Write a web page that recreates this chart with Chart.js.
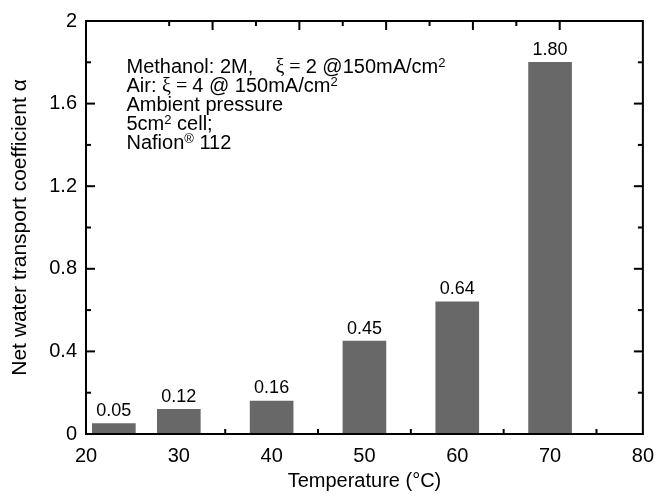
<!DOCTYPE html>
<html>
<head>
<meta charset="utf-8">
<script src="https://cdn.jsdelivr.net/npm/chart.js@4.4.1/dist/chart.umd.min.js"></script>
<style>
  html, body { margin: 0; padding: 0; background: #fff; }
  canvas { display: block; }
</style>
</head>
<body>
<canvas id="chart" width="664" height="497"></canvas>
<script>
// bar positions (°C) and net water transport coefficient
const temps = [23, 30, 40, 50, 60, 70];
const alpha = [0.05, 0.12, 0.16, 0.45, 0.64, 1.80];

// axis ranges / tick steps
const xRange = [20, 80], xStep = 10;
const yRange = [0, 2], yStep = 0.4;
const topRange = [0, 5.5], topStep = 1;

// operating conditions text, as runs: [text, kind] ('n' normal, 's' symbol, 'sup' superscript)
const notes = [
  [['Methanol: 2M,    ', 'n'], ['ξ = ', 's'], ['2 @150mA/cm', 'n'], ['2', 'sup']],
  [['Air: ', 'n'], ['ξ = ', 's'], ['4 @ 150mA/cm', 'n'], ['2', 'sup']],
  [['Ambient pressure', 'n']],
  [['5cm', 'n'], ['2', 'sup'], [' cell;', 'n']],
  [['Nafion', 'n'], ['®', 'sup'], [' 112', 'n']]
];

const SANS = '"Liberation Sans", Arial, sans-serif';
const SERIF = '"Liberation Serif", "Times New Roman", serif';

Chart.defaults.font.family = SANS;
Chart.defaults.color = '#000';

// inward major/minor tick marks on all four sides
const frameTicks = {
  id: 'frameTicks',
  beforeDatasetsDraw(chart) {
    const { ctx, chartArea: a, scales } = chart;
    ctx.save();
    ctx.strokeStyle = '#000';
    ctx.lineWidth = 2;
    const marks = (scale, step, draw) => {
      const n = Math.round((scale.max - scale.min) / (step / 2));
      for (let i = 1; i < n; i++) {
        const p = scale.getPixelForValue(scale.min + i * step / 2);
        draw(p, i % 2 === 0 ? 9 : 5);
      }
    };
    const line = (x1, y1, x2, y2) => {
      ctx.beginPath(); ctx.moveTo(x1, y1); ctx.lineTo(x2, y2); ctx.stroke();
    };
    marks(scales.x, xStep, (p, l) => line(p, a.bottom, p, a.bottom - l));
    marks(scales.xTop, topStep, (p, l) => line(p, a.top, p, a.top + l));
    marks(scales.y, yStep, (p, l) => {
      line(a.left, p, a.left + l, p);
      line(a.right, p, a.right - l, p);
    });
    ctx.restore();
  },
  afterDatasetsDraw(chart) {
    const { ctx, chartArea: a } = chart;
    ctx.save();
    ctx.strokeStyle = '#000';
    ctx.lineWidth = 2;
    ctx.strokeRect(a.left, a.top, a.width, a.height);

    // value labels above the bars
    ctx.fillStyle = '#000';
    ctx.font = '18px ' + SANS;
    ctx.textAlign = 'center';
    ctx.textBaseline = 'alphabetic';
    chart.getDatasetMeta(0).data.forEach((bar, i) => {
      ctx.fillText(alpha[i].toFixed(2), bar.x, bar.y - 7.5);
    });

    // condition notes
    ctx.textAlign = 'left';
    notes.forEach((runs, li) => {
      let x = a.left + 40.5;
      const y = a.top + 51.5 + li * 19.2;
      runs.forEach(([txt, kind]) => {
        let dy = 0;
        if (kind === 'n') ctx.font = '20px ' + SANS;
        else if (kind === 's') ctx.font = '20px ' + SERIF;
        else { ctx.font = '13px ' + SANS; dy = -6; }
        ctx.fillText(txt, x, y + dy);
        x += ctx.measureText(txt).width;
      });
    });
    ctx.restore();
  }
};

new Chart(document.getElementById('chart'), {
  type: 'bar',
  data: {
    datasets: [{
      data: temps.map((t, i) => ({ x: t, y: alpha[i] })),
      backgroundColor: '#686868',
      borderWidth: 0,
      barThickness: 43
    }]
  },
  options: {
    responsive: false,
    animation: false,
    layout: { padding: { top: 10, right: 12, left: 0, bottom: 0 } },
    plugins: { legend: { display: false }, tooltip: { enabled: false } },
    scales: {
      x: {
        type: 'linear',
        position: 'bottom',
        min: xRange[0], max: xRange[1],
        offset: false,
        grid: { display: false, drawTicks: false },
        border: { display: false },
        ticks: { stepSize: xStep, padding: 10, font: { size: 20 }, color: '#000', maxRotation: 0 },
        title: { display: true, text: 'Temperature (°C)', font: { size: 20 }, color: '#000', padding: { top: 0, bottom: 4 } },
        afterFit: s => { s.height = 63; }
      },
      xTop: {
        type: 'linear',
        position: 'top',
        min: topRange[0], max: topRange[1],
        grid: { display: false, drawTicks: false },
        border: { display: false },
        ticks: { display: false, stepSize: topStep },
        afterFit: s => { s.height = 0; }
      },
      y: {
        min: yRange[0], max: yRange[1],
        grid: { display: false, drawTicks: false },
        border: { display: false },
        ticks: {
          stepSize: yStep, padding: 9, font: { size: 20 }, color: '#000',
          callback: v => String(+v.toFixed(1))
        },
        title: { display: true, text: 'Net water transport coefficient α', font: { size: 21 }, color: '#000', padding: { top: 8, bottom: 0 } },
        afterFit: s => { s.width = 86; }
      }
    }
  },
  plugins: [frameTicks]
});
</script>
</body>
</html>
